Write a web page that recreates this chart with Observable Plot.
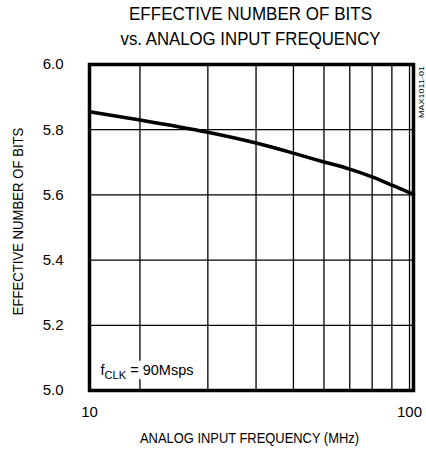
<!DOCTYPE html>
<html>
<head>
<meta charset="utf-8">
<script src="https://cdn.jsdelivr.net/npm/d3@7"></script>
<script src="https://cdn.jsdelivr.net/npm/@observablehq/plot@0.6"></script>
<style>
  html, body { margin: 0; padding: 0; background: #fff; }
  #chart svg { display: block; }
</style>
</head>
<body>
<div id="chart"></div>
<script>
// ---- data ----
const titleLines = ["EFFECTIVE NUMBER OF BITS", "vs. ANALOG INPUT FREQUENCY"];
const xLabel = "ANALOG INPUT FREQUENCY (MHz)";
const yLabel = "EFFECTIVE NUMBER OF BITS";
const partNumber = "MAX1011-01";
const annotation = "fCLK = 90Msps";

const xDomain = [14.8, 102.4];            // MHz (log)
const yDomain = [5.0, 6.0];               // bits
const xGrid = [20, 30, 40, 50, 60, 70, 80, 90, 100];
const yGrid = [5.2, 5.4, 5.6, 5.8];
const xTicks = [14.8, 100];
const xTickLabels = ["10", "100"];
const yTicks = [5.0, 5.2, 5.4, 5.6, 5.8, 6.0];

const freq = [14.8, 20, 30, 40, 50, 60, 70, 80, 90, 100, 102.4];
const enob = [5.855, 5.830, 5.792, 5.759, 5.728, 5.701, 5.679, 5.655, 5.630, 5.607, 5.602];

const curve = freq.map((f, i) => ({f, enob: enob[i]}));

const FONT = "'Liberation Sans', Arial, Helvetica, sans-serif";

const chart = Plot.plot({
  width: 426,
  height: 453,
  marginLeft: 89,
  marginRight: 13,
  marginTop: 64,
  marginBottom: 63,
  style: {fontFamily: FONT, fontSize: "15px", color: "#000", background: "#fff", overflow: "visible"},
  x: {type: "log", domain: xDomain},
  y: {domain: yDomain},
  marks: [
    Plot.ruleX(xGrid, {stroke: "#000", strokeWidth: 1.3}),
    Plot.ruleY(yGrid, {stroke: "#000", strokeWidth: 1.3}),
    // white knock-out behind the annotation
    Plot.text([annotation], {
      frameAnchor: "bottom-left", dx: 11, dy: -20, textAnchor: "start", lineAnchor: "middle",
      fontSize: 15, fill: "#fff", stroke: "#fff", strokeWidth: 13
    }),
    Plot.text([annotation], {
      frameAnchor: "bottom-left", dx: 11, dy: -20, textAnchor: "start", lineAnchor: "middle",
      fontSize: 15, fill: "#000"
    }),
    Plot.frame({stroke: "#000", strokeWidth: 3.5}),
    Plot.line(curve, {x: "f", y: "enob", curve: "monotone-x", stroke: "#000", strokeWidth: 3.5}),
    Plot.axisY({ticks: yTicks, tickSize: 0, tickPadding: 26, tickFormat: d => d.toFixed(1), fontSize: 15, label: null}),
    Plot.axisX({ticks: xTicks, tickSize: 0, tickPadding: 16, tickFormat: (d) => xTickLabels[xTicks.indexOf(d)], fontSize: 15, label: null}),
    Plot.text([yLabel], {frameAnchor: "left", dx: -71, dy: -6, rotate: -90, textAnchor: "middle", lineAnchor: "middle", fontSize: 14.5, fill: "#000"}),
    Plot.text([xLabel], {frameAnchor: "bottom", dx: -2, dy: 48, textAnchor: "middle", lineAnchor: "middle", fontSize: 14.5, fill: "#000"}),
    Plot.text([titleLines[0]], {frameAnchor: "top", dx: -1, dy: -50, textAnchor: "middle", lineAnchor: "middle", fontSize: 18, fill: "#000"}),
    Plot.text([titleLines[1]], {frameAnchor: "top", dx: -1, dy: -25.5, textAnchor: "middle", lineAnchor: "middle", fontSize: 18, fill: "#000"}),
    Plot.text([partNumber], {frameAnchor: "top-right", dx: 8, dy: 27.5, rotate: -90, textAnchor: "middle", lineAnchor: "middle", fontSize: 7.5, fill: "#000"})
  ]
});

document.getElementById("chart").append(chart);

// condensed look: fit texts to the reference widths
const flatWidths = new Map([
  [titleLines[0], 243],
  [titleLines[1], 260],
  [xLabel, 219]
]);
const rotatedWidths = new Map([
  [yLabel, 188],
  [partNumber, 52]
]);
const ns = "http://www.w3.org/2000/svg";
chart.querySelectorAll("text").forEach(t => {
  const s = t.textContent;
  const tr = t.getAttribute("transform") || "";
  const rotated = tr.includes("rotate");
  if (rotated && rotatedWidths.has(s)) {
    const sx = rotatedWidths.get(s) / t.getComputedTextLength();
    t.setAttribute("transform", tr + ` scale(${sx},1)`);
  } else if (!rotated && flatWidths.has(s)) {
    t.setAttribute("textLength", flatWidths.get(s));
    t.setAttribute("lengthAdjust", "spacingAndGlyphs");
  }
  if (s === annotation) {
    t.textContent = "";
    const a = document.createElementNS(ns, "tspan"); a.textContent = "f";
    const b = document.createElementNS(ns, "tspan"); b.textContent = "CLK";
    b.setAttribute("dy", "4"); b.setAttribute("font-size", "11.5");
    const c = document.createElementNS(ns, "tspan"); c.textContent = " = 90Msps";
    c.setAttribute("dy", "-4");
    t.append(a, b, c);
    t.setAttribute("textLength", 93);
    t.setAttribute("lengthAdjust", "spacingAndGlyphs");
  }
});
</script>
</body>
</html>
